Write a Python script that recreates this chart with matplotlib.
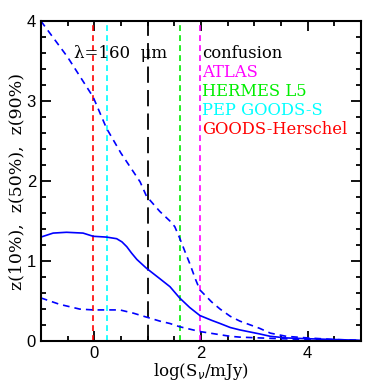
import numpy as np
import matplotlib
matplotlib.use("Agg")
import matplotlib.pyplot as plt
from matplotlib.ticker import MultipleLocator

# data
logS = [-1.0, -0.77, -0.52, -0.21, -0.02, 0.23, 0.42, 0.52, 0.61, 0.7, 0.8, 0.98, 1.23, 1.42, 1.6, 1.79, 1.98, 2.2, 2.36, 2.55, 2.73, 3.1, 3.3, 3.6, 4.0, 4.5, 5.0]
z50 = [1.30, 1.35, 1.36, 1.35, 1.31, 1.30, 1.28, 1.24, 1.18, 1.10, 1.02, 0.91, 0.78, 0.68, 0.54, 0.42, 0.32, 0.26, 0.22, 0.17, 0.14, 0.09, 0.06, 0.04, 0.03, 0.02, 0.01]
z90_x = [-1.0, -0.5, -0.02, 0.23, 0.5, 0.86, 0.98, 1.23, 1.42, 1.51, 1.6, 1.7, 1.79, 1.9, 1.98, 2.2, 2.36, 2.55, 2.73, 3.1, 3.3, 3.6, 4.0, 4.5, 5.0]
z90 = [4.00, 3.55, 3.05, 2.66, 2.35, 1.99, 1.81, 1.62, 1.50, 1.43, 1.29, 1.12, 0.97, 0.77, 0.64, 0.49, 0.40, 0.31, 0.25, 0.16, 0.10, 0.06, 0.04, 0.02, 0.01]
z10_x = [-1.0, -0.65, -0.27, -0.02, 0.48, 0.73, 0.98, 1.23, 1.42, 1.6, 1.98, 2.36, 2.55, 2.73, 3.1, 3.5, 4.0, 4.5, 5.0]
z10 = [0.54, 0.46, 0.40, 0.39, 0.39, 0.35, 0.30, 0.25, 0.22, 0.18, 0.12, 0.08, 0.06, 0.05, 0.04, 0.03, 0.02, 0.01, 0.005]

limit_names = ["confusion", "ATLAS", "HERMES L5", "PEP GOODS-S", "GOODS-Herschel"]
limit_vals = [1.0, 1.98, 1.61, 0.24, -0.03]
limit_colors = ["black", "#ff00ff", "#00ee00", "#00ffff", "#ff0000"]

fig = plt.figure(figsize=(3.82, 3.82), dpi=100)
ax = fig.add_axes([0.107, 0.107, 0.838, 0.838])

for v, c in zip(limit_vals, limit_colors):
    if c == "black":
        ax.axvline(v, color=c, lw=1.3, dashes=(9, 4))
    else:
        ax.axvline(v, color=c, lw=1.2, dashes=(3.5, 2.5))

ax.plot(logS, z50, color="#0000ff", lw=1.2)
ax.plot(z90_x, z90, color="#0000ff", lw=1.2, dashes=(4, 3))
ax.plot(z10_x, z10, color="#0000ff", lw=1.2, dashes=(4, 3))

ax.set_xlim(-1, 5)
ax.set_ylim(0, 4)
ax.xaxis.set_major_locator(MultipleLocator(2))
ax.xaxis.set_minor_locator(MultipleLocator(0.5))
ax.yaxis.set_major_locator(MultipleLocator(1))
ax.yaxis.set_minor_locator(MultipleLocator(0.2))
ax.tick_params(which="both", direction="in", top=True, right=True, width=1.3, labelsize=12)
ax.tick_params(which="major", length=7)
ax.tick_params(which="minor", length=3.5)
for s in ax.spines.values():
    s.set_linewidth(1.5)
for lab in ax.get_xticklabels() + ax.get_yticklabels():
    lab.set_family("Liberation Sans")

serif = "DejaVu Serif"
ax.set_xlabel(r"log(S$_\nu$/mJy)", family=serif, fontsize=12, labelpad=0)
ax.set_ylabel("z(10%),  z(50%),  z(90%)", family=serif, fontsize=12.5, labelpad=1)

ax.text(-0.38, 3.6, "λ=160  μm", family=serif, fontsize=12, va="center", ha="left")
for i, (n, c) in enumerate(zip(limit_names, limit_colors)):
    ax.text(2.02, 3.6 - i * 0.24, n, color=c, family=serif, fontsize=11.8, va="center", ha="left")

fig.savefig("out.png", dpi=100)
